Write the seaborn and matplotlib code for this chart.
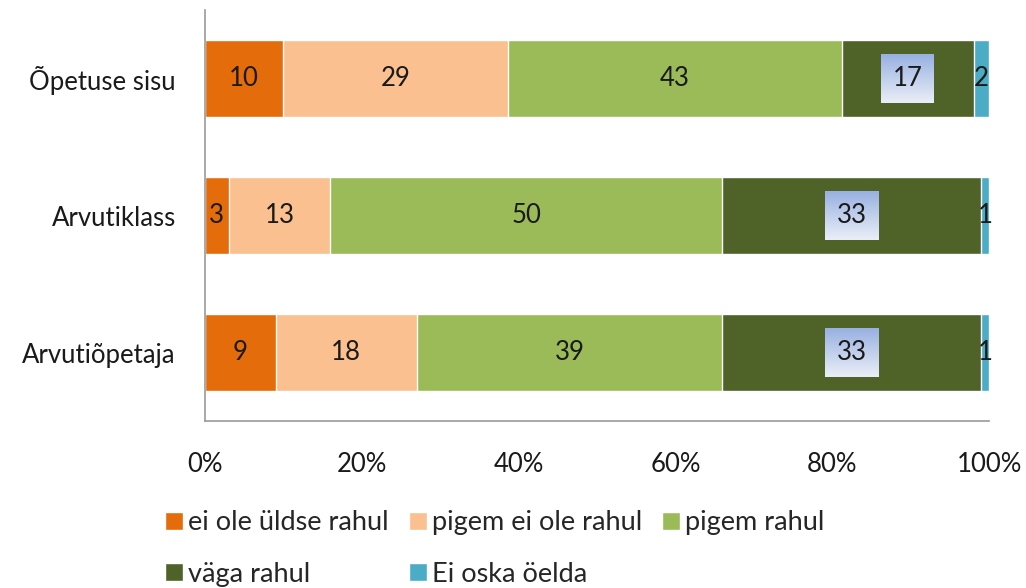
import numpy as np
import pandas as pd
import matplotlib
matplotlib.use("Agg")
import matplotlib.pyplot as plt
from matplotlib.colors import LinearSegmentedColormap
import seaborn as sns

categories = ["Õpetuse sisu", "Arvutiklass", "Arvutiõpetaja"]
series_names = ["ei ole üldse rahul", "pigem ei ole rahul", "pigem rahul",
                "väga rahul", "Ei oska öelda"]
ei_ole_uldse = [10, 3, 9]
pigem_ei_ole = [29, 13, 18]
pigem_rahul = [43, 50, 39]
vaga_rahul = [17, 33, 33]
ei_oska = [2, 1, 1]
colors = ["#E46C0A", "#FAC090", "#9BBB59", "#4F6228", "#4BACC6"]
xtick_labels = ["0%", "20%", "40%", "60%", "80%", "100%"]

sns.set_theme(style="white")
plt.rcParams["font.family"] = ["Lato", "DejaVu Sans"]
FS = 18.5
LFS = 19.5

vals = np.array([ei_ole_uldse, pigem_ei_ole, pigem_rahul, vaga_rahul, ei_oska], dtype=float)
totals = vals.sum(axis=0)
share = vals / totals * 100
cum = np.cumsum(share, axis=0)

fig = plt.figure(figsize=(10.26, 5.88), dpi=100)
ax = fig.add_axes([0.1998, 0.284, 0.964 - 0.1998, 0.983 - 0.284])

for i in range(len(series_names) - 1, -1, -1):
    df = pd.DataFrame({"cat": categories, "val": cum[i]})
    sns.barplot(data=df, x="val", y="cat", orient="h", color=colors[i],
                width=0.56, ax=ax, saturation=1, label=series_names[i])

handles, labels = ax.get_legend_handles_labels()
hmap = dict(zip(labels, handles))
if ax.get_legend() is not None:
    ax.get_legend().remove()

boxed = []
for i in range(len(series_names)):
    for j in range(len(categories)):
        left = cum[i, j] - share[i, j]
        xc = left + share[i, j] / 2
        kw = {}
        if i == 3:
            kw["bbox"] = dict(boxstyle="square,pad=0.45", facecolor="none",
                              edgecolor="none")
        t = ax.text(xc, j, str(int(vals[i, j])), ha="center", va="center",
                    fontsize=FS, color="#1a1a1a", zorder=5, **kw)
        if i == 3:
            boxed.append(t)

ax.set_xlim(0, 100)
ax.set_ylim(2.5, -0.5)
ax.set_xticks(np.arange(0, 101, 20))
ax.set_xticklabels(xtick_labels)
ax.set_xlabel("")
ax.set_ylabel("")
ax.tick_params(axis="x", length=0, pad=22, labelsize=FS, colors="#1a1a1a")
ax.tick_params(axis="y", length=0, pad=21, labelsize=FS, colors="#1a1a1a")
for s in ["top", "right"]:
    ax.spines[s].set_visible(False)
for s in ["left", "bottom"]:
    ax.spines[s].set_color("#9a9a9a")
    ax.spines[s].set_linewidth(1.2)

# gradient fill for boxed labels (darker blue at top, lighter at bottom)
fig.canvas.draw()
renderer = fig.canvas.get_renderer()
cmap = LinearSegmentedColormap.from_list("grad", ["#98B1E2", "#EAEEF7"])
grad = np.linspace(0, 1, 64).reshape(-1, 1)
inv = ax.transData.inverted()
images, boxes = [], []
for t in boxed:
    bb = t.get_bbox_patch().get_window_extent(renderer)
    (x0, y0), (x1, y1) = inv.transform([(bb.x0, bb.y0), (bb.x1, bb.y1)])
    im = ax.imshow(grad, cmap=cmap, vmin=0, vmax=1, aspect="auto",
                   extent=[x0, x1, y0, y1], origin="upper", zorder=4)
    images.append(im)
    boxes.append(bb)
ax.set_xlim(0, 100)
ax.set_ylim(2.5, -0.5)

# verify orientation from the rendered pixels, flip if needed
fig.canvas.draw()
buf = np.asarray(fig.canvas.buffer_rgba()).astype(float)
H = buf.shape[0]
bb = boxes[0]
cx = int(bb.x0 + 4)
top_row = int(H - bb.y1 + 3)
bot_row = int(H - bb.y0 - 3)
if buf[top_row, cx, :3].sum() > buf[bot_row, cx, :3].sum():
    for im in images:
        im.set_data(grad[::-1])

order = [0, 3, 1, 4, 2]
fig.legend([hmap[series_names[k]] for k in order], [series_names[k] for k in order],
           ncol=3, loc="upper left", bbox_to_anchor=(141 / 1026, 1 - 486 / 588),
           frameon=False, fontsize=LFS, handlelength=0.65, handleheight=0.65,
           handletextpad=0.2, columnspacing=0.74, labelspacing=0.97,
           borderpad=0.4)

fig.savefig("out.png", dpi=100)
